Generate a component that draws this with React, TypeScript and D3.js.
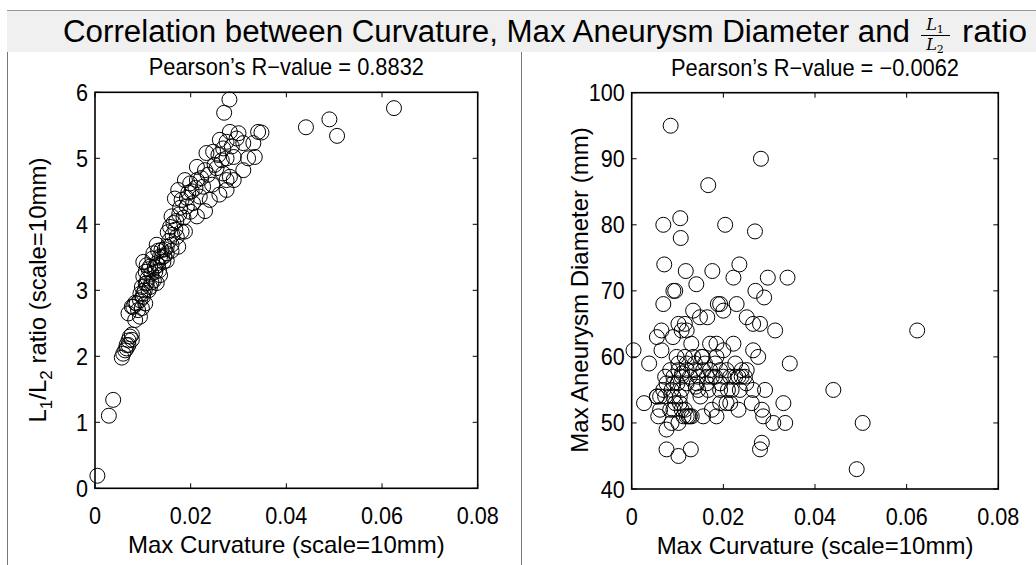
import React from "react";
import * as d3 from "d3";

const xTicks = [0, 0.02, 0.04, 0.06, 0.08];
const xTickLabels = ["0", "0.02", "0.04", "0.06", "0.08"];
const leftYTicks = [0, 1, 2, 3, 4, 5, 6];
const rightYTicks = [40, 50, 60, 70, 80, 90, 100];

const leftX = [
  0.0005, 0.0029, 0.0038,
  0.0056, 0.0059, 0.0063, 0.0066, 0.0066, 0.007, 0.007, 0.0073, 0.0077, 0.0077,
  0.007, 0.0077, 0.008, 0.0084, 0.0084, 0.0087, 0.0094, 0.0094, 0.0098, 0.0101, 0.0105, 0.01,
  0.0098, 0.0101, 0.0108, 0.0115, 0.0129, 0.0136, 0.0104, 0.011, 0.0118, 0.0123, 0.0106, 0.0112,
  0.0101, 0.0115, 0.0129, 0.0143, 0.0122, 0.0136, 0.015, 0.0129, 0.0139, 0.015, 0.016, 0.0174, 0.0108, 0.012, 0.0132, 0.0145, 0.0125,
  0.0157, 0.0164, 0.0181, 0.0171, 0.0188, 0.016, 0.0152, 0.0168,
  0.0167, 0.0181, 0.0192, 0.0205, 0.0213, 0.0199, 0.0174, 0.0188, 0.0199, 0.0213, 0.0226, 0.024, 0.0219, 0.0178, 0.0195, 0.023,
  0.0213, 0.023, 0.0254, 0.0268, 0.0282, 0.0275, 0.029, 0.0275, 0.031, 0.0233, 0.0247, 0.0265, 0.0275, 0.029, 0.0334, 0.0245, 0.026,
  0.0261, 0.0275, 0.0286, 0.0282, 0.03, 0.031, 0.0331, 0.0341, 0.0348, 0.027, 0.0281,
  0.0441, 0.049, 0.0506, 0.0625,
  0.0112, 0.0118, 0.0126, 0.0132, 0.014, 0.0146, 0.0155, 0.0162, 0.017, 0.0176, 0.0185, 0.0192, 0.0202,
  0.021, 0.0222, 0.0236, 0.025, 0.0258, 0.0268, 0.0296, 0.032, 0.0095, 0.009, 0.0106, 0.0134, 0.015, 0.016,
];
const leftY = [
  0.19, 1.1, 1.34,
  1.98, 2.04, 2.09, 2.12, 2.17, 2.17, 2.24, 2.3, 2.25, 2.33,
  2.65, 2.75, 2.75, 2.55, 2.81, 2.8, 2.6, 2.85, 2.73, 2.95, 2.8, 2.9,
  3.05, 3.21, 3.11, 3.05, 3.11, 3.23, 3.0, 3.18, 3.25, 3.15, 3.28, 3.32,
  3.43, 3.36, 3.41, 3.43, 3.56, 3.51, 3.56, 3.69, 3.61, 3.66, 3.69, 3.66, 3.38, 3.48, 3.6, 3.52, 3.35,
  3.96, 4.02, 3.89, 3.81, 3.89, 4.12, 3.88, 3.92,
  4.39, 4.37, 4.27, 4.32, 4.12, 4.19, 4.52, 4.67, 4.62, 4.67, 4.57, 4.37, 4.42, 4.25, 4.48, 4.2,
  4.87, 4.82, 4.85, 4.77, 4.72, 4.67, 4.67, 4.52, 4.82, 5.08, 5.1, 4.97, 5.0, 5.02, 5.02, 4.6, 4.45,
  5.28, 5.25, 5.18, 5.4, 5.38, 5.23, 5.23, 5.4, 5.39, 5.69, 5.89,
  5.47, 5.59, 5.34, 5.76,
  3.0, 3.12, 3.28, 3.38, 3.5, 3.62, 3.75, 3.84, 4.05, 4.15, 4.1, 4.4, 4.5,
  4.55, 4.7, 4.75, 4.9, 5.05, 5.15, 5.3, 5.0, 2.95, 2.7, 3.1, 3.3, 3.45, 3.6,
];

const rightX = [
  0.0085, 0.0282, 0.0167, 0.0069, 0.0106, 0.0204, 0.0107, 0.0269, 0.0071, 0.0118, 0.0176, 0.0235,
  0.0222, 0.0297, 0.034, 0.0141, 0.0095, 0.0091, 0.027, 0.0289, 0.0069, 0.0188, 0.0229, 0.0193,
  0.02, 0.0134, 0.0149, 0.0165, 0.0251, 0.0265, 0.028, 0.0313, 0.0065, 0.0102, 0.0116, 0.0109,
  0.012, 0.0055, 0.0004, 0.0065, 0.0171, 0.0185, 0.0222, 0.0265, 0.0276, 0.0345, 0.0038, 0.044,
  0.0027, 0.0331, 0.0076, 0.0102, 0.0129, 0.0284, 0.028, 0.0309, 0.0335, 0.0076, 0.0087, 0.0102,
  0.0124, 0.0127, 0.0058, 0.0156, 0.0175, 0.0185, 0.0233, 0.0262, 0.0284, 0.0287, 0.0062, 0.0055,
  0.0084, 0.0095, 0.0105,
  0.0073, 0.0091, 0.0109, 0.0127, 0.0145, 0.0164, 0.0182, 0.02, 0.0215, 0.0226, 0.0233, 0.024, 0.0247,
  0.0102, 0.012, 0.0138, 0.016, 0.0182, 0.0226,
  0.0098, 0.0116, 0.0134, 0.0153, 0.0185,
  0.0084, 0.0102, 0.012, 0.0138, 0.0156, 0.0171, 0.0193, 0.0207, 0.0251,
  0.0076, 0.0091, 0.012, 0.0142, 0.0164, 0.0193,
  0.0069, 0.0087, 0.0109, 0.0145, 0.0167, 0.0193, 0.0218, 0.0236, 0.0265, 0.0291,
  0.0055, 0.0073, 0.0091, 0.0105,
  0.0193, 0.0207, 0.0215,
  0.0062, 0.0091, 0.0109, 0.0116,
  0.0113, 0.012, 0.0131,
  0.0491, 0.0504, 0.0623,
  0.01, 0.015, 0.0175, 0.021, 0.024, 0.0155, 0.02, 0.013, 0.009, 0.025, 0.011, 0.014,
];
const rightY = [
  95, 90, 86, 80, 81, 80, 78, 79, 74, 73, 73, 74,
  72, 72, 72, 71, 70, 70, 70, 69, 68, 68, 68, 68,
  67, 67, 66, 66, 66, 65, 65, 64, 64, 65, 65, 64,
  64, 63, 61, 61, 62, 62, 62, 61, 60, 59, 59, 55,
  53, 53, 46, 45, 46, 47, 46, 50, 50, 49, 50, 50,
  51, 51, 51, 51, 52, 51, 52, 53, 52, 51, 54, 54,
  52, 53, 53,
  57, 57, 57, 57, 57, 57, 57, 57, 57, 57, 57, 57, 57,
  59, 59, 59, 59, 59, 59,
  60, 60, 60, 60, 60,
  58, 58, 58, 58, 58, 58, 58, 58, 58,
  56, 56, 56, 56, 56, 56,
  55, 55, 55, 55, 55, 55, 55, 55, 55, 55,
  54, 54, 54, 54,
  53, 53, 53,
  52, 52, 52, 52,
  51, 51, 51,
  43, 50, 64,
  56, 54, 57, 55, 58, 60, 61, 62, 63, 56, 57.5, 55.5,
];

const FONT = "'Liberation Sans', Arial, Helvetica, sans-serif";

function T({ x, y, size, anchor = "middle", rotate = 0, sx = 1, children }: any) {
  return (
    <text
      transform={`translate(${x},${y}) rotate(${rotate}) scale(${sx},1)`}
      fontFamily={FONT}
      fontSize={size}
      textAnchor={anchor}
      fill="#000"
    >
      {children}
    </text>
  );
}

function Panel({ x0, x1, y0, y1, yDomain, yTicks, xs, ys, title, ylabel }: any) {
  const x = d3.scaleLinear().domain([0, 0.08]).range([x0, x1]);
  const y = d3.scaleLinear().domain(yDomain).range([y1, y0]);
  const tl = 5;
  return (
    <g>
      {xs.map((v: number, i: number) => (
        <circle key={i} cx={x(v)} cy={y(ys[i])} r={7.5} fill="none" stroke="#000" strokeWidth={1} />
      ))}
      <rect x={x0} y={y0} width={x1 - x0} height={y1 - y0} fill="none" stroke="#000" strokeWidth={1.6} />
      {xTicks.map((t, i) => (
        <g key={"xt" + i}>
          <line x1={x(t)} x2={x(t)} y1={y1} y2={y1 - tl} stroke="#000" strokeWidth={1} />
          <line x1={x(t)} x2={x(t)} y1={y0} y2={y0 + tl} stroke="#000" strokeWidth={1} />
          <T x={x(t)} y={y1 + 36} size={24} sx={0.9}>{xTickLabels[i]}</T>
        </g>
      ))}
      {yTicks.map((t: number, i: number) => (
        <g key={"yt" + i}>
          <line x1={x0} x2={x0 + tl} y1={y(t)} y2={y(t)} stroke="#000" strokeWidth={1} />
          <line x1={x1} x2={x1 - tl} y1={y(t)} y2={y(t)} stroke="#000" strokeWidth={1} />
          <T x={x0 - 7} y={y(t) + 8.5} size={24} sx={0.9} anchor="end">{String(t)}</T>
        </g>
      ))}
      <T x={(x0 + x1) / 2} y={y0 - 17} size={23} sx={0.95}>{title}</T>
      <T x={(x0 + x1) / 2} y={y1 + 65} size={24}>Max Curvature (scale=10mm)</T>
      {ylabel}
    </g>
  );
}

export default function App() {
  return (
    <svg width={1036} height={565} style={{ position: "absolute", left: 0, top: 0, background: "#fff" }}>
      <rect x={0} y={0} width={1036} height={565} fill="#fff" />
      <rect x={7} y={10} width={1029} height={42} fill="#f0f0f0" />
      <line x1={7} x2={1036} y1={10.5} y2={10.5} stroke="#999" strokeWidth={1} />
      <line x1={7.5} x2={7.5} y1={52} y2={565} stroke="#777" strokeWidth={1} />
      <line x1={521.5} x2={521.5} y1={52} y2={565} stroke="#777" strokeWidth={1} />
      <text x={63} y={42} fontFamily={FONT} fontSize={31} textLength={847} lengthAdjust="spacingAndGlyphs" fill="#000">
        Correlation between Curvature, Max Aneurysm Diameter and
      </text>
      <g fontFamily="'DejaVu Serif', 'Liberation Serif', serif" fontStyle="italic" fill="#000">
        <text x={935} y={30} fontSize={16} textAnchor="middle">L<tspan fontSize={11} fontStyle="normal" dy={3}>1</tspan></text>
        <line x1={921} x2={950} y1={35.5} y2={35.5} stroke="#000" strokeWidth={1} />
        <text x={935} y={50} fontSize={16} textAnchor="middle">L<tspan fontSize={11} fontStyle="normal" dy={3}>2</tspan></text>
      </g>
      <text x={962} y={42} fontFamily={FONT} fontSize={31} textLength={65} lengthAdjust="spacingAndGlyphs" fill="#000">ratio</text>

      <Panel
        x0={95} x1={477.7} y0={92.3} y1={488.3}
        yDomain={[0, 6]} yTicks={leftYTicks}
        xs={leftX} ys={leftY}
        title="Pearson’s R−value = 0.8832"
        ylabel={
          <text transform="translate(46,290) rotate(-90)" fontFamily={FONT} fontSize={24} textAnchor="middle" fill="#000">
            L<tspan fontSize={17} dy={6}>1</tspan><tspan dy={-6}>/L</tspan><tspan fontSize={17} dy={6}>2</tspan><tspan dy={-6}> ratio (scale=10mm)</tspan>
          </text>
        }
      />
      <Panel
        x0={631.7} x1={998.3} y0={92.7} y1={489}
        yDomain={[40, 100]} yTicks={rightYTicks}
        xs={rightX} ys={rightY}
        title="Pearson’s R−value = −0.0062"
        ylabel={<T x={588} y={290} size={24} rotate={-90}>Max Aneurysm Diameter (mm)</T>}
      />
    </svg>
  );
}
